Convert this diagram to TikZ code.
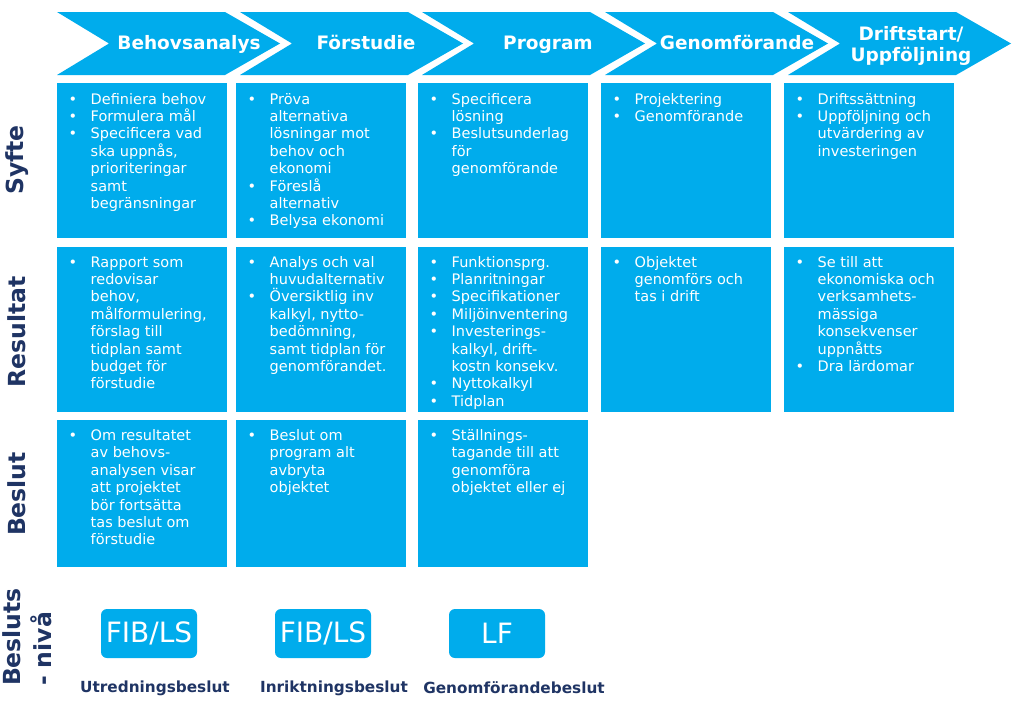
\documentclass[tikz,border=0pt]{standalone}
\usepackage{fontspec}
\setmainfont{DejaVu Sans}
\definecolor{boxblue}{RGB}{0,172,236}
\definecolor{navy}{RGB}{31,52,100}
\newcommand\bitem{\leavevmode\llap{\textbullet\hspace{13.5pt}}}
\begin{document}
\begin{tikzpicture}[x=1pt,y=-1pt,
  chev/.style={fill=boxblue},
  chevtitle/.style={anchor=base, inner sep=0, text=white, font=\fontsize{18.5}{20.5}\selectfont\bfseries, align=center},
  cell/.style={rectangle, fill=boxblue, draw=none, inner sep=0, minimum width=170pt, anchor=north west},
  celltext/.style={anchor=base west, inner sep=0, text=white, font=\fontsize{14.5}{17.4}\selectfont},
  rowlabel/.style={rotate=90, inner sep=0, text=navy, font=\fontsize{23.5}{31}\selectfont\bfseries},
  levelbox/.style={rectangle, rounded corners=6pt, fill=boxblue, minimum width=96pt, minimum height=49pt, inner sep=0, text=white, font=\fontsize{28}{32}\selectfont},
  levellabel/.style={inner sep=0, text=navy, font=\fontsize{15.3}{18}\selectfont\bfseries}
]
\useasboundingbox (0,0) rectangle (1024,707);
\fill[white] (0,0) rectangle (1024,707);

% chevrons
\foreach \x in {57,240,422,605,788}{
  \fill[chev] (\x,12) -- ++(168,0) -- ++(55,31.5) -- ++(-55,31.5) -- ++(-168,0) -- ++(52,-31.5) -- cycle;
}
\node[chevtitle] (h1) at (189,49.5) {Behovsanalys};
\node[chevtitle] (h2) at (366,49.5) {Förstudie};
\node[chevtitle] (h3) at (548,49.5) {Program};
\node[chevtitle] (h4) at (737,49.5) {Genomförande};
\node[chevtitle, anchor=base] (h5) at (911,61) {Driftstart/\\Uppföljning};

% row labels
\node[rowlabel] (lsyfte) at (17,160) {Syfte};
\node[rowlabel] (lres) at (17,332) {Resultat};
\node[rowlabel] (lbes) at (17,494) {Beslut};
\node[rowlabel, align=left] (lniva) at (27,637) {Besluts\\- nivå};

% Syfte row
\node[cell, minimum height=155pt] (s1) at (57,83) {};
\node[cell, minimum height=155pt] (s2) at (236,83) {};
\node[cell, minimum height=155pt] (s3) at (418,83) {};
\node[cell, minimum height=155pt] (s4) at (601,83) {};
\node[cell, minimum height=155pt] (s5) at (784,83) {};
\node[celltext] (ts1) at ([xshift=33.5pt,yshift=-21pt]s1.north west) {\parbox[t]{140pt}{\raggedright
\bitem Definiera behov\\\bitem Formulera mål\\\bitem Specificera vad\\ska uppnås,\\prioriteringar\\samt\\begränsningar}};
\node[celltext] (ts2) at ([xshift=33.5pt,yshift=-21pt]s2.north west) {\parbox[t]{140pt}{\raggedright
\bitem Pröva\\alternativa\\lösningar mot\\behov och\\ekonomi\\\bitem Föreslå\\alternativ\\\bitem Belysa ekonomi}};
\node[celltext] (ts3) at ([xshift=33.5pt,yshift=-21pt]s3.north west) {\parbox[t]{140pt}{\raggedright
\bitem Specificera\\lösning\\\bitem Beslutsunderlag\\för\\genomförande}};
\node[celltext] (ts4) at ([xshift=33.5pt,yshift=-21pt]s4.north west) {\parbox[t]{140pt}{\raggedright
\bitem Projektering\\\bitem Genomförande}};
\node[celltext] (ts5) at ([xshift=33.5pt,yshift=-21pt]s5.north west) {\parbox[t]{140pt}{\raggedright
\bitem Driftssättning\\\bitem Uppföljning och\\utvärdering av\\investeringen}};

% Resultat row
\node[cell, minimum height=165pt] (r1) at (57,247) {};
\node[cell, minimum height=165pt] (r2) at (236,247) {};
\node[cell, minimum height=165pt] (r3) at (418,247) {};
\node[cell, minimum height=165pt] (r4) at (601,247) {};
\node[cell, minimum height=165pt] (r5) at (784,247) {};
\node[celltext] (tr1) at ([xshift=33.5pt,yshift=-20pt]r1.north west) {\parbox[t]{140pt}{\raggedright
\bitem Rapport som\\redovisar\\behov,\\målformulering,\\förslag till\\tidplan samt\\budget för\\förstudie}};
\node[celltext] (tr2) at ([xshift=33.5pt,yshift=-20pt]r2.north west) {\parbox[t]{140pt}{\raggedright
\bitem Analys och val\\huvudalternativ\\\bitem Översiktlig inv\\kalkyl, nytto-\\bedömning,\\samt tidplan för\\genomförandet.}};
\node[celltext] (tr3) at ([xshift=33.5pt,yshift=-20pt]r3.north west) {\parbox[t]{140pt}{\raggedright
\bitem Funktionsprg.\\\bitem Planritningar\\\bitem Specifikationer\\\bitem Miljöinventering\\\bitem Investerings-\\kalkyl, drift-\\kostn konsekv.\\\bitem Nyttokalkyl\\\bitem Tidplan}};
\node[celltext] (tr4) at ([xshift=33.5pt,yshift=-20pt]r4.north west) {\parbox[t]{140pt}{\raggedright
\bitem Objektet\\genomförs och\\tas i drift}};
\node[celltext] (tr5) at ([xshift=33.5pt,yshift=-20pt]r5.north west) {\parbox[t]{140pt}{\raggedright
\bitem Se till att\\ekonomiska och\\verksamhets-\\mässiga\\konsekvenser\\uppnåtts\\\bitem Dra lärdomar}};

% Beslut row
\node[cell, minimum height=147pt] (b1) at (57,420) {};
\node[cell, minimum height=147pt] (b2) at (236,420) {};
\node[cell, minimum height=147pt] (b3) at (418,420) {};
\node[celltext] (tb1) at ([xshift=33.5pt,yshift=-20.5pt]b1.north west) {\parbox[t]{140pt}{\raggedright
\bitem Om resultatet\\av behovs-\\analysen visar\\att projektet\\bör fortsätta\\tas beslut om\\förstudie}};
\node[celltext] (tb2) at ([xshift=33.5pt,yshift=-20.5pt]b2.north west) {\parbox[t]{140pt}{\raggedright
\bitem Beslut om\\program alt\\avbryta\\objektet}};
\node[celltext] (tb3) at ([xshift=33.5pt,yshift=-20.5pt]b3.north west) {\parbox[t]{140pt}{\raggedright
\bitem Ställnings-\\tagande till att\\genomföra\\objektet eller ej}};

% decision levels
\node[levelbox] (n1) at (149,633.5) {FIB/LS};
\node[levelbox] (n2) at (323,633.5) {FIB/LS};
\node[levelbox] (n3) at (497,633.5) {LF};
\node[levellabel] (d1) at (155,688) {Utredningsbeslut};
\node[levellabel] (d2) at (334,688) {Inriktningsbeslut};
\node[levellabel] (d3) at (514,688) {Genomförandebeslut};
\end{tikzpicture}
\end{document}
